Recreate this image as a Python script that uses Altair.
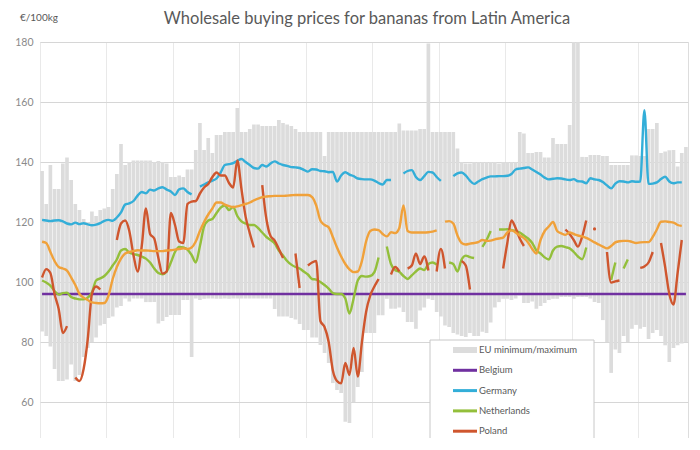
import altair as alt
import pandas as pd

# ---------------- data (weekly, 156 weeks) ----------------
N_WEEKS = 156

eu_max = [137, 126, 139, 131, 131, 139.5, 141.5, 134, 126, 124,
          121, 120, 123.5, 122, 124, 124.5, 125, 131, 136, 146,
          139, 140, 140.5, 140.5, 140.5, 140.5, 140.5, 140, 140.3, 140,
          139.5, 135, 135, 135.5, 135, 137.5, 137.5, 144, 153, 144,
          148, 143, 149, 149, 150, 150, 150, 158, 150, 150,
          151, 152.5, 152.5, 152, 152, 152, 152, 154, 153, 152.5,
          152, 151, 150, 150, 150, 150, 150, 150, 142, 150,
          150, 150, 150, 150, 150, 150, 150, 150, 150, 150,
          150, 150, 150, 150, 150, 150, 152.8, 150.5, 150.5, 150.5,
          150.5, 151, 151, 179.5, 150, 150, 150, 150, 150, 150,
          144.5, 140, 139.5, 139.5, 140, 140, 140, 140, 140, 140,
          139.5, 140, 140, 140, 140, 150, 149.5, 143, 143, 143.3,
          143.3, 141.5, 141.5, 148, 146, 146, 146, 152.3, 180, 180,
          141.7, 141.7, 142.3, 142.3, 142.3, 142, 142, 139, 139, 139,
          139, 139, 142.2, 142.2, 142, 142, 151, 151, 153, 143,
          143.5, 143.9, 144, 138.5, 143, 145]

eu_min = [83.5, 82, 78.5, 71, 67, 67, 67.5, 72.5, 67, 69,
          75, 78, 80, 81.5, 85.5, 86, 88, 88.5, 91.5, 92,
          94.5, 93.5, 94.5, 94.5, 94.5, 93.3, 93.3, 93.3, 86.2, 87,
          88.3, 89, 89, 89, 94, 94, 75, 94.5, 94, 94.4,
          94.5, 94.5, 94.4, 94.4, 94.5, 94.4, 94.5, 94.5, 94.5, 94.5,
          94.5, 94.5, 94.5, 94.5, 94.5, 94.5, 91, 88.5, 88.5, 88.5,
          88, 87.5, 86, 84, 84, 81.5, 81.5, 79, 76.3, 73,
          66.3, 64, 63, 53.4, 53, 60, 65, 70, 83, 83,
          83, 88.9, 88.9, 94.4, 91.1, 91.1, 91.5, 90, 86.7, 86.7,
          84.4, 90.5, 91.5, 94.4, 94, 90, 88.5, 85.5, 85, 83,
          82.5, 82, 81.7, 83, 82, 82, 83.4, 83, 86.5, 91.5,
          93.3, 94.4, 94.4, 94, 94.5, 95.5, 93, 93, 93.5, 91.1,
          92, 93, 94, 94.4, 94.4, 95, 95, 95, 94.4, 95,
          95, 95, 94.5, 93.3, 93, 87.3, 80, 69.7, 77.5, 76.3,
          82, 80, 84.4, 85.7, 84.4, 85, 81, 83, 84, 82,
          78.9, 73.3, 78, 78.9, 79.5, 80]

belgium_level = 96.0

germany = [120.7, 120.5, 120.3, 120.5, 120.6, 120.2, 119.5, 119.2, 119.8, 119.3,
           119.6, 119.2, 118.9, 119.1, 119.6, 120.4, 120.7, 120.4, 121.5, 123.2,
           125.8, 126.2, 127.0, 128.8, 130.0, 129.6, 130.8, 130.5, 131.2, 131.6,
           130.8, 130.2, 129.0, 130.9, 131.2, 130.0, 129.2, None, 131.8, 132.5,
           133.2, 133.8, 134.5, 136.5, 139.0, 139.3, 139.6, 140.4, 141.0, 140.0,
           139.0, 138.0, 137.8, 139.0, 138.5, 139.5, 140.2, 139.5, 139.0, 138.7,
           138.3, 138.2, 138.0, 137.4, 136.8, 137.6, 137.5, 137.0, 136.9, 136.6,
           136.7, 133.5, 135.5, 136.6, 135.8, 135.3, 134.5, 134.3, 134.2, 134.2,
           133.8, 133.0, 132.5, 134.0, 134.0, None, None, 136.2, 137.0, 137.3,
           135.0, 134.0, 135.3, 136.7, 136.5, 135.0, 133.7, None, None, 135.3,
           136.2, 136.5, 135.5, 133.8, 132.7, 133.5, 134.3, 134.8, 135.2, 135.2,
           135.3, 135.3, 135.4, 136.0, 137.5, 137.8, 138.0, 138.2, 137.5, 136.7,
           135.8, 134.8, 134.2, 134.4, 134.6, 134.5, 134.2, 134.0, 134.3, 133.6,
           133.5, 132.9, 134.6, 134.2, 134.0, 133.3, 132.2, 131.2, 132.8, 133.6,
           133.5, 133.2, 133.6, 133.4, 133.5, 157.3, 132.7, 132.8, 133.2, 134.3,
           135.1, 133.5, 132.9, 133.2, 133.2, None]

netherlands = [100.5, 99.8, 98.8, 97.0, 95.8, 96.3, 96.4, 95.0, 94.5, 94.2,
               94.2, 94.8, 96.5, 100.5, 101.2, 102.0, 103.5, 105.5, 107.5, 110.5,
               111.0, 109.8, 109.3, 109.0, 108.5, 107.8, 106.5, 104.5, 103.0, 102.6,
               103.5, 106.5, 110.0, 111.7, 111.5, 110.8, 109.0, 106.5, 112.0, 118.5,
               120.5, 121.0, 123.0, 124.8, 125.5, 124.0, 125.0, 122.0, 120.2, 119.5,
               119.0, 119.0, 118.0, 116.5, 115.0, 114.0, 112.8, 110.5, 108.8, 107.0,
               105.8, 105.0, 104.5, 103.5, 102.5, 101.0, 100.8, 100.0, 99.0, 97.8,
               96.3, 96.0, 96.0, 94.5, 89.5, 94.5, 100.5, 102.0, 101.8, 102.0,
               103.3, 108.2, None, 111.8, 106.0, 104.0, 103.4, 102.0, 101.0, 102.2,
               103.5, 104.5, 104.0, 106.0, 106.5, 105.8, None, None, 106.5, 106.0,
               103.5, 107.5, 108.8, 108.3, 108.0, None, 111.7, 114.0, 117.0, None,
               117.5, 117.5, 117.6, 117.3, 117.0, 116.5, 115.5, 114.5, 113.0, 110.5,
               109.5, 108.2, 107.5, 110.5, 111.8, 112.0, 111.6, 111.2, 110.0, 108.5,
               107.6, 111.5, None, None, None, None, None, 100.7, 106.5, None,
               104.5, 107.5, None, None, None, None, None, None, None, None,
               None, None, None, None, None, None]

poland = [101.5, 104.3, 103.0, 96.0, 91.0, 83.0, 85.3, None, 68.2, 67.0,
          71.0, 81.0, 96.0, 98.5, 97.5, None, None, None, 114.0, 119.5,
          120.5, 117.0, 109.0, 103.5, 112.0, 124.5, 116.0, 114.5, 108.0, 102.8,
          103.5, 123.0, 119.0, 113.5, 113.0, 126.0, 126.8, 127.0, 129.5, 131.5,
          132.7, 135.0, 136.5, 135.5, 135.5, 133.0, 131.5, 140.5, 131.0, 121.8,
          116.3, 111.5, None, 132.3, 121.0, 115.3, 113.8, 111.0, 108.0, None,
          None, 109.5, 98.0, None, 105.5, 106.5, 107.0, 87.0, 85.0, 80.0,
          70.5, 67.0, 66.2, 73.0, 69.0, 78.0, 68.5, 80.0, 90.0, 95.5,
          98.5, 101.0, None, None, 102.5, 105.0, 103.5, None, 104.5, 105.5,
          109.5, 106.0, 108.5, 103.8, None, 103.5, 111.0, 104.5, None, None,
          None, 107.0, 105.5, 97.5, None, None, None, None, None, None,
          None, 104.5, 113.0, 120.5, 118.0, 114.5, 112.0, None, None, None,
          None, None, None, None, None, None, 117.5, 116.0, 114.0, 111.8,
          115.0, 120.5, None, 117.7, None, None, 110.0, 99.8, 100.2, 100.5,
          None, None, None, None, 104.7, 105.2, 106.5, 110.0, None, 113.0,
          105.0, 96.0, 92.5, 103.0, 114.0, None]

france = [113.4, 113.0, 110.0, 107.0, 105.0, 104.5, 103.8, 101.5, 99.0, 96.0,
          94.8, 94.0, 93.2, 93.0, 92.9, 93.0, 95.5, 101.0, 105.0, 107.8,
          109.5, 110.0, 110.3, 110.6, 110.5, 110.5, 110.4, 110.3, 110.3, 110.3,
          110.5, 110.6, 110.8, 111.0, 111.2, 111.0, 111.5, 113.5, 117.0, 120.0,
          122.5, 124.5, 126.5, 126.5, 125.8, 125.3, 125.0, 125.2, 125.6, 126.0,
          126.5, 127.2, 127.8, 128.3, 128.5, 128.6, 128.7, 128.7, 128.7, 128.8,
          128.9, 129.0, 129.0, 129.0, 129.0, 128.3, 125.5, 120.5, 119.0, 118.2,
          115.0, 111.5, 108.5, 106.0, 104.2, 103.3, 103.5, 107.0, 113.5, 117.0,
          117.5, 117.3, 116.0, 115.2, 116.6, 116.3, 118.0, 125.5, 117.0, 116.5,
          116.5, 116.5, 116.5, 116.6, 116.8, 117.2, None, 120.1, 120.3, 119.5,
          115.5, 113.0, 112.5, 112.8, 113.0, 113.3, 114.0, 113.7, 113.8, 114.2,
          114.5, 114.8, 116.5, 117.2, 116.5, 115.5, 114.6, 113.2, 111.0, 109.5,
          114.0, 117.0, 118.5, 120.0, 117.0, 116.2, 115.7, 116.5, 116.0, 115.5,
          115.2, 114.7, 114.0, 113.2, 112.5, 111.8, 111.2, 112.0, 113.2, 113.6,
          113.7, 113.7, 113.4, 113.0, 113.2, 113.3, 113.3, 115.0, 117.5, 120.1,
          120.2, 120.0, 119.8, 119.0, 118.7, None]

legend_labels = ["EU minimum/maximum", "Belgium", "Germany", "Netherlands", "Poland"]
series_names = ["EU minimum/maximum", "Belgium", "Germany", "Netherlands", "Poland", "France"]
series_colors = ["#dcdcdc", "#7030a0", "#33aed8", "#93bf3b", "#cf562e", "#f0a13a"]

TITLE = "Wholesale buying prices for bananas from Latin America"
UNIT = "€/100kg"

# ---------------- tables ----------------
weeks = list(range(N_WEEKS))
bars_df = pd.DataFrame({"week": weeks, "lo": eu_min, "hi": eu_max})

series = {
    "Belgium": [belgium_level] * N_WEEKS,
    "Germany": germany,
    "Netherlands": netherlands,
    "Poland": poland,
    "France": france,
}
rows = []
for name, vals in series.items():
    seg = 0
    gap = True
    for w, v in zip(weeks, vals):
        if v is None:
            gap = True
            continue
        if gap:
            seg += 1
            gap = False
        rows.append({"series": name, "seg": f"{name}-{seg}", "week": w, "price": v})
lines_df = pd.DataFrame(rows)
seg_sizes = lines_df.groupby("seg")["week"].transform("count")
single_df = lines_df[seg_sizes == 1]

legend_df = pd.DataFrame({"series": legend_labels, "k": list(range(len(legend_labels)))})

# ---------------- chart ----------------
xscale = alt.Scale(domain=[0, N_WEEKS], nice=False, zero=False)
yscale = alt.Scale(domain=[48, 180], nice=False, zero=False)
cscale = alt.Scale(domain=series_names, range=series_colors)

xaxis = alt.Axis(values=list(range(0, N_WEEKS + 1)), labels=False, ticks=False,
                 domain=False, grid=True, gridColor="#e9e9e9", gridWidth=1, title=None)
yaxis = alt.Axis(values=[60, 80, 100, 120, 140, 160, 180], domain=False, ticks=False,
                 labelPadding=7, labelFontSize=10.5, labelColor="#8a8a8a", labelFont="Lato",
                 gridColor="#d6d6d6", gridWidth=1, title=None)

bars = alt.Chart(bars_df).transform_calculate(
    x0="datum.week + 0.06", x1="datum.week + 0.94"
).mark_rect(color="#dcdcdc").encode(
    x=alt.X("x0:Q", scale=xscale, axis=xaxis),
    x2="x1:Q",
    y=alt.Y("lo:Q", scale=yscale, axis=yaxis),
    y2="hi:Q",
)

lines = alt.Chart(lines_df).transform_calculate(
    xc="datum.week + 0.5"
).mark_line(strokeWidth=2.4, interpolate="monotone").encode(
    x=alt.X("xc:Q", scale=xscale),
    y=alt.Y("price:Q", scale=yscale),
    color=alt.Color("series:N", scale=cscale, legend=None),
    detail="seg:N",
    order="week:Q",
)

dots = alt.Chart(single_df).transform_calculate(
    xc="datum.week + 0.5"
).mark_point(filled=True, size=10, opacity=1).encode(
    x=alt.X("xc:Q", scale=xscale),
    y=alt.Y("price:Q", scale=yscale),
    color=alt.Color("series:N", scale=cscale, legend=None),
)

title_mark = alt.Chart(legend_df.head(1)).mark_text(
    align="center", baseline="middle", fontSize=16.5, font="Lato", color="#595959"
).encode(x=alt.value(327), y=alt.value(-23), text=alt.value(TITLE))

unit_mark = alt.Chart(legend_df.head(1)).mark_text(
    align="left", baseline="middle", fontSize=10, font="Lato", color="#595959"
).encode(x=alt.value(-20), y=alt.value(-24), text=alt.value(UNIT))

box = alt.Chart(legend_df.head(1)).mark_rect(
    fill="white", stroke="#c8c8c8", strokeWidth=1
).encode(
    x=alt.value(390), x2=alt.value(554), y=alt.value(298), y2=alt.value(420)
)

leg_base = alt.Chart(legend_df).transform_calculate(ly="308 + datum.k * 20.3")

leg_rect = leg_base.transform_filter(alt.datum.k == 0).transform_calculate(
    ly0="datum.ly - 3", ly1="datum.ly + 3"
).mark_rect(color="#dcdcdc").encode(
    x=alt.value(413), x2=alt.value(437),
    y=alt.Y("ly0:Q", scale=None, axis=None), y2="ly1:Q",
)

leg_rules = leg_base.transform_filter(alt.datum.k > 0).mark_rule(strokeWidth=3).encode(
    x=alt.value(413), x2=alt.value(437),
    y=alt.Y("ly:Q", scale=None, axis=None),
    color=alt.Color("series:N", scale=cscale, legend=None),
)

leg_text = leg_base.mark_text(
    align="left", baseline="middle", fontSize=9.5, font="Lato", color="#595959"
).encode(
    x=alt.value(439),
    y=alt.Y("ly:Q", scale=None, axis=None),
    text="series:N",
)

chart = alt.layer(bars, lines, dots, title_mark, unit_mark, box, leg_rect, leg_rules,
                  leg_text).properties(
    width=648,
    height=396,
    autosize="none",
    padding={"left": 32, "top": 34, "right": 4, "bottom": 0},
).configure_view(stroke=None).configure(background="white")

chart.save("out.html", embed_options={"renderer": "svg", "actions": False})
